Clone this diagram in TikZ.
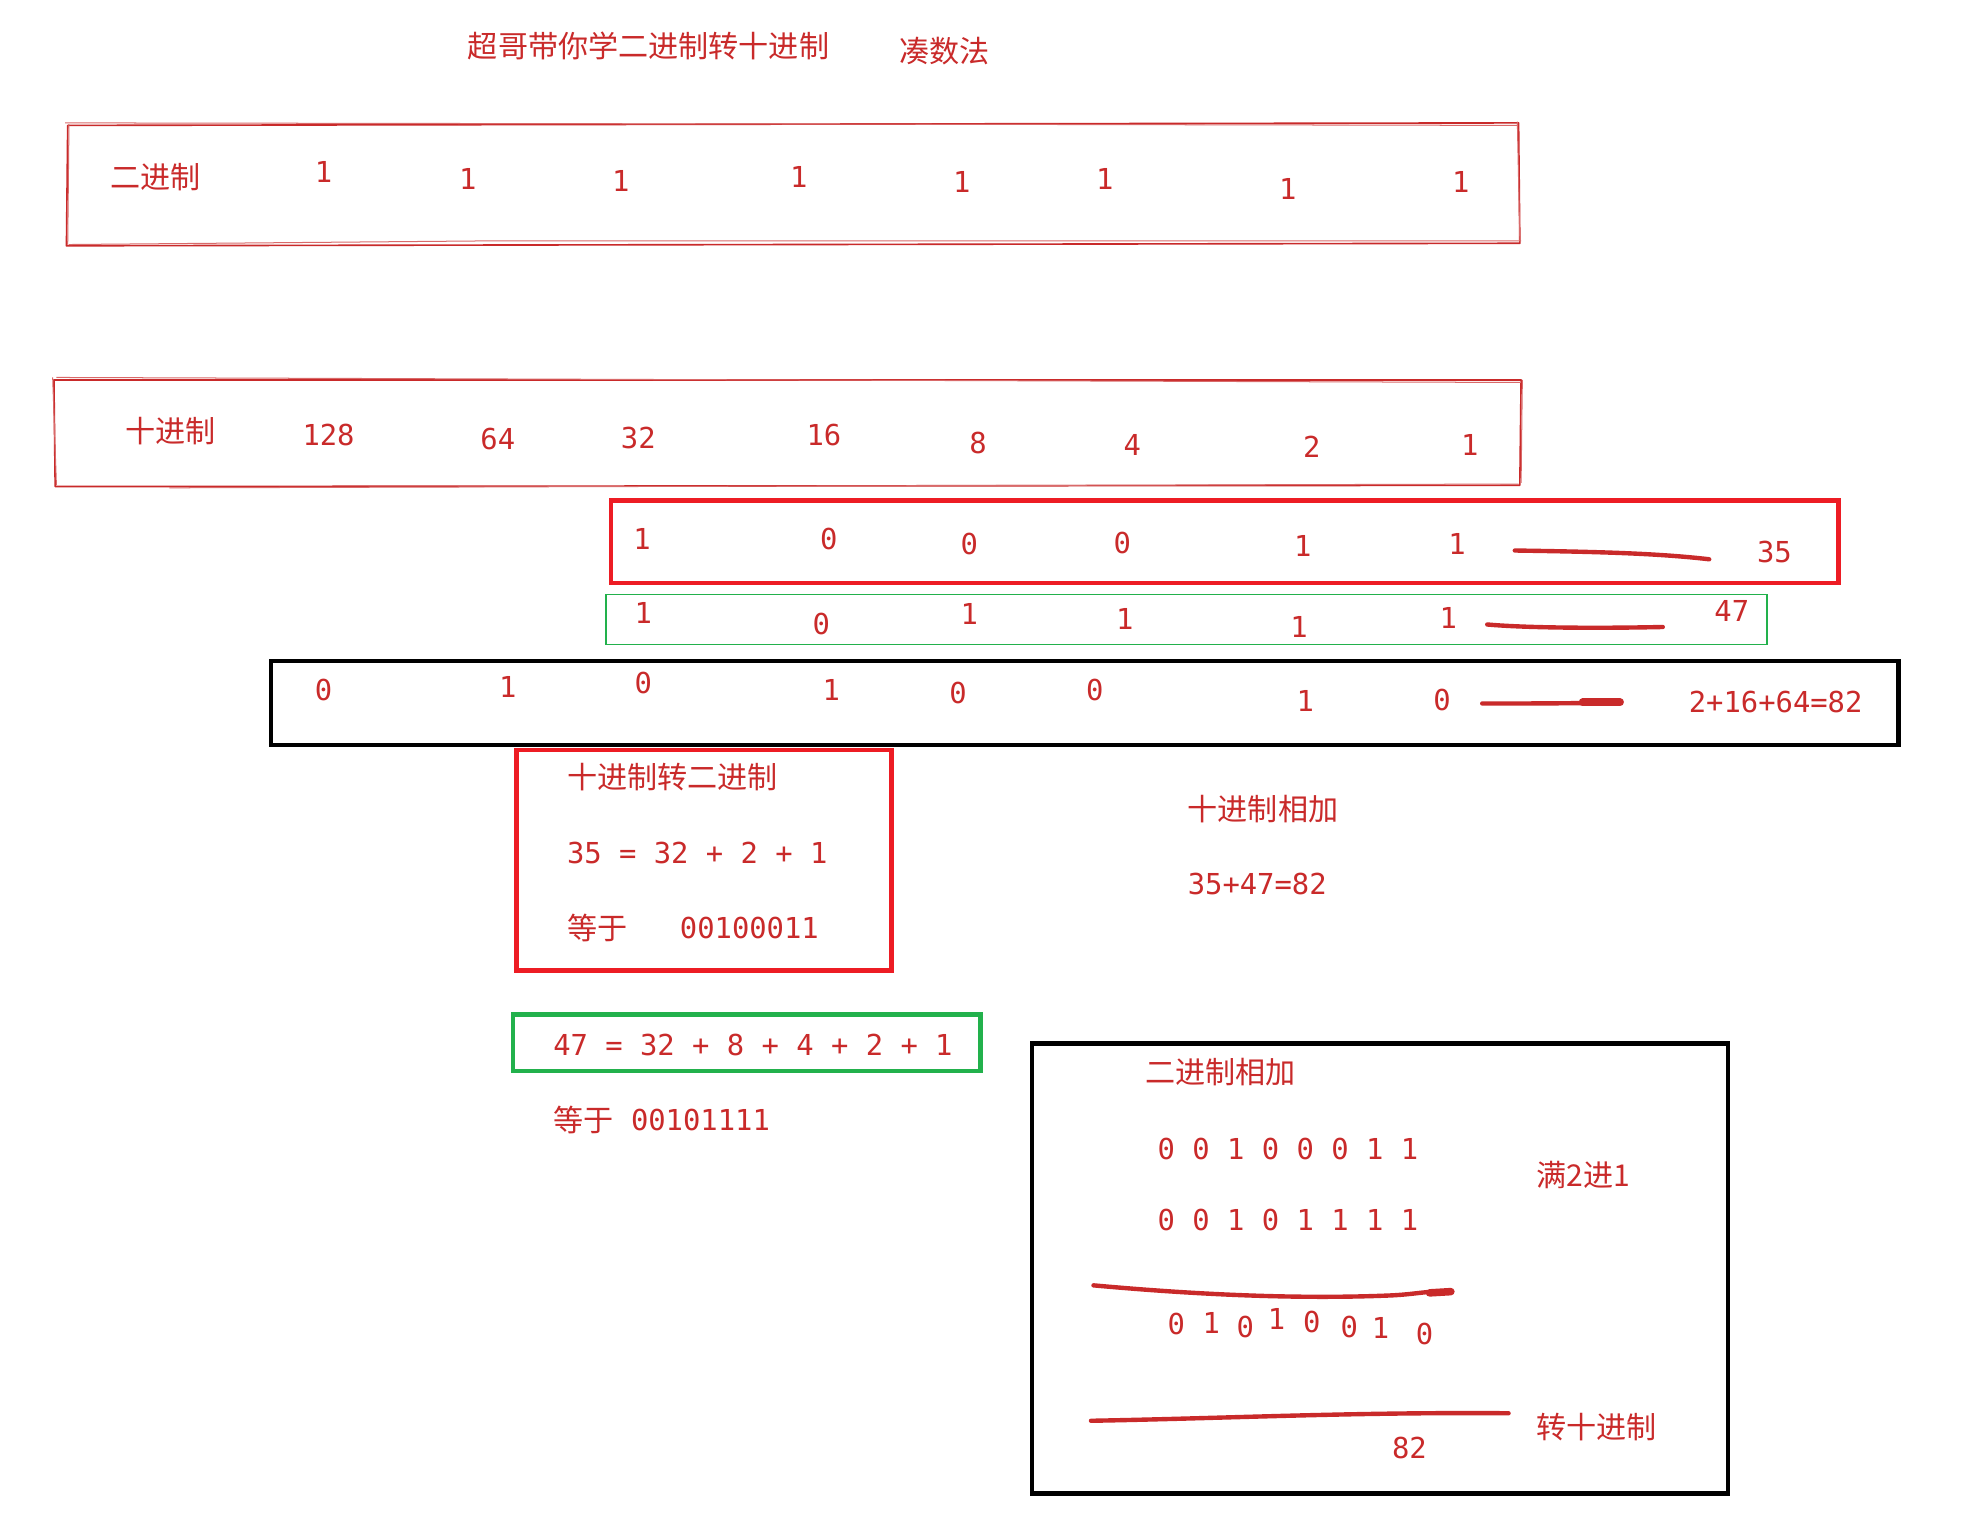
\documentclass[tikz,border=0pt]{standalone}
\usepackage{fontspec}
\newfontfamily\cjk{Noto Sans CJK SC}
\newfontfamily\mono{DejaVu Sans Mono}
\definecolor{txtred}{HTML}{C92A2A}
\definecolor{boxred}{HTML}{ED1C24}
\definecolor{boxgreen}{HTML}{22B14C}
\begin{document}
\begin{tikzpicture}[x=1pt,y=-1pt,
  cn/.style={font=\cjk\fontsize{24}{28}\selectfont, text=txtred, inner sep=0pt},
  dg/.style={font=\mono\fontsize{23}{28}\selectfont, text=txtred, inner sep=0pt},
  sketch/.style={draw=txtred, line width=1.3pt, line join=round},
  sketchfaint/.style={draw=txtred!70, line width=0.8pt, line join=round},
  hand/.style={draw=txtred, line width=3.5pt, line cap=round},
  redbox/.style={draw=boxred, line width=3.5pt},
  greenthin/.style={draw=boxgreen, line width=1.4pt},
  greenbox/.style={draw=boxgreen, line width=3.5pt},
  blackbox/.style={draw=black, line width=3.5pt}]
\useasboundingbox (0,0) rectangle (1567,1218);
\fill[white] (0,0) rectangle (1567,1218);

% title
\node[cn, anchor=west] (title) at (373,37) {超哥带你学二进制转十进制};
\node[cn, anchor=west] (method) at (717,41) {凑数法};

% box 1 binary
\draw[sketch] (54,100) -- (1211,98) -- (1212,194) -- (53,196) -- cycle;
\draw[sketchfaint] (52,98) -- (700,99) -- (1210,100) (1210,97) -- (1212,192) (1213,192) -- (400,192) -- (55,195) (55,99) -- (54,195);
\node[cn] (bin) at (124,141) {二进制};
\foreach \x/\y [count=\i] in {258/137,373/143,495/144,637/141,767/145,881/143,1027/151,1165/145}
  \node[dg] (b\i) at (\x,\y) {1};

% box 2 decimal
\draw[sketch] (43,303) -- (1213,303) -- (1212,387) -- (44,388) -- cycle;
\draw[sketchfaint] (45,301) -- (1212,305) (1214,303) -- (1213,385) (1211,386) -- (135,389) (42,301) -- (45,387);
\node[cn] (dec) at (136,344) {十进制};
\foreach \x/\y/\t [count=\i] in {262/347/128,397/350/64,509/349/32,657/347/16,780/353/8,903/355/4,1046/356/2,1172/355/1}
  \node[dg] (d\i) at (\x,\y) {\t};

% box 35
\draw[redbox] (487,399) rectangle (1466,465);
\foreach \x/\y/\t [count=\i] in {512/430/1,661/430/0,773/434/0,895/433/0,1039/435/1,1162/434/1}
  \node[dg] (r\i) at (\x,\y) {\t};
\coordinate (l35a) at (1208,439);
\coordinate (l35b) at (1363,446);
\draw[hand, line width=3.5pt] (l35a) .. controls (1270,440) and (1320,441) .. (l35b);
\node[dg] (n35) at (1415,440) {35};

% box 47
\draw[greenthin] (483,474) rectangle (1409,514);
\foreach \x/\y/\t [count=\i] in {513/489/1,655/498/0,773/490/1,897/494/1,1036/500/1,1155/493/1}
  \node[dg] (g\i) at (\x,\y) {\t};
\coordinate (l47a) at (1186,498);
\coordinate (l47b) at (1326,500);
\draw[hand, line width=3.5pt] (l47a) .. controls (1220,501) and (1280,501) .. (l47b);
\node[dg] (n47) at (1381,487) {47};

% box 82
\draw[blackbox] (216,527) rectangle (1514,594);
\foreach \x/\y/\t [count=\i] in {258/550/0,405/548/1,513/545/0,663/550/1,764/553/0,873/550/0,1041/559/1,1150/558/0}
  \node[dg] (k\i) at (\x,\y) {\t};
\coordinate (l82a) at (1182,561);
\coordinate (l82b) at (1292,560);
\draw[hand, line width=3.5pt] (l82a) .. controls (1220,561) and (1260,561) .. (l82b);
\draw[hand, line width=6pt] (1262,560) -- (l82b);
\node[dg] (sum82) at (1416,560) {2+16+64=82};

% decimal to binary box
\draw[redbox] (412,598) rectangle (711,774);
\node[cn, anchor=west] (d2b) at (452,620) {十进制转二进制};
\node[dg, anchor=west] (eq35) at (452,680) {35 = 32 + 2 + 1};
\node[cn, anchor=west] (eq1) at (452,740) {等于};
\node[dg, anchor=west] (bin35) at (542,740) {00100011};

% decimal addition
\node[cn, anchor=west] (decadd) at (947,645) {十进制相加};
\node[dg, anchor=west] (decsum) at (947,705) {35+47=82};

% green box 47
\draw[greenbox] (409,809) rectangle (782,854);
\node[dg, anchor=west] (eq47) at (441,833) {47 = 32 + 8 + 4 + 2 + 1};
\node[cn, anchor=west] (eq2) at (441,893) {等于};
\node[dg, anchor=west] (bin47) at (503,893) {00101111};

% binary addition box
\draw[blackbox] (823,832) rectangle (1378,1191);
\node[cn, anchor=west] (binadd) at (913,855) {二进制相加};
\node[dg, anchor=west] (row1) at (923,916) {0 0 1 0 0 0 1 1};
\node[dg, anchor=west] (row2) at (923,973) {0 0 1 0 1 1 1 1};
\node[cn, anchor=west] (carry) at (1225,937) {满2进1};
\coordinate (s1a) at (872,1025);
\coordinate (s1b) at (1157,1030);
\draw[hand, line width=3.5pt] (s1a) .. controls (960,1033) and (1040,1036) .. (1110,1033) .. controls (1130,1032) and (1140,1029) .. (s1b);
\draw[hand, line width=6pt] (1140,1031) -- (s1b);
\foreach \x/\y/\t [count=\i] in {938/1056/0,966/1055/1,993/1058/0,1018/1052/1,1046/1054/0,1076/1058/0,1101/1059/1,1136/1064/0}
  \node[dg] (s\i) at (\x,\y) {\t};
\coordinate (s2a) at (870,1133);
\coordinate (s2b) at (1203,1127);
\draw[hand, line width=3.5pt] (s2a) .. controls (980,1131) and (1080,1126) .. (s2b);
\node[dg] (res82) at (1124,1155) {82};
\node[cn, anchor=west] (todec) at (1225,1138) {转十进制};
\end{tikzpicture}
\end{document}
